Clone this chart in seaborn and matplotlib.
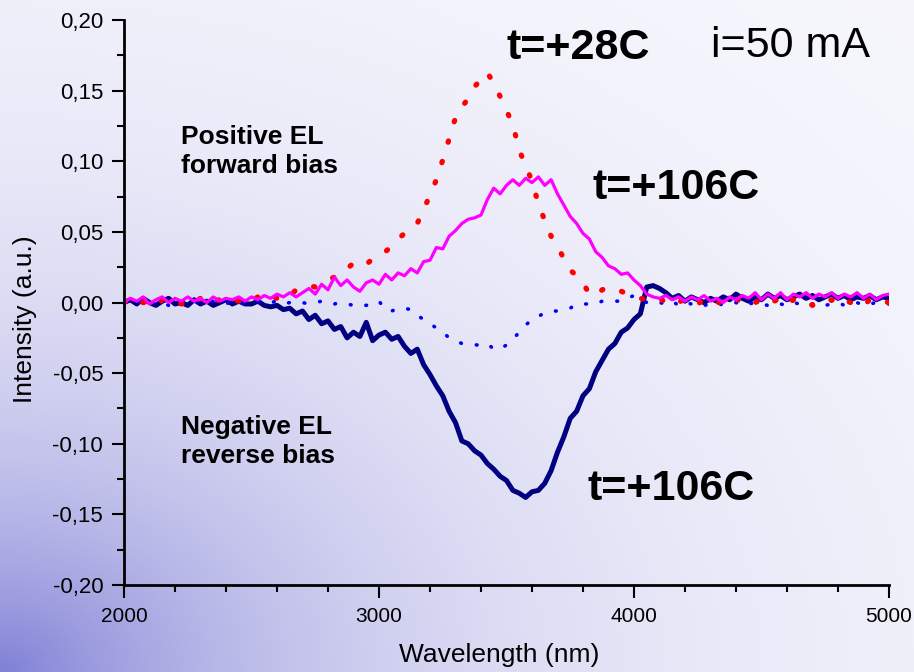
import numpy as np
import pandas as pd
import matplotlib
matplotlib.use("Agg")
import matplotlib.pyplot as plt
from matplotlib.ticker import MultipleLocator, FuncFormatter
import seaborn as sns

# wavelength grid, 25 nm steps, 2000..5000 nm
wavelength = np.arange(2000, 5001, 25)

# t=+106C, reverse bias (negative EL), thick navy line
rev_106 = [
    0.000, 0.002, -0.001, 0.003, 0.000, -0.002, 0.001, 0.003, -0.001, 0.000,
    -0.002, 0.002, -0.001, 0.001, -0.002, 0.000, 0.002, -0.001, 0.001, -0.001,
    -0.001, 0.001, -0.002, -0.003, -0.002, -0.005, -0.004, -0.008, -0.006, -0.012,
    -0.009, -0.015, -0.013, -0.019, -0.017, -0.025, -0.021, -0.024, -0.014, -0.027,
    -0.023, -0.021, -0.026, -0.024, -0.031, -0.036, -0.033, -0.044, -0.051, -0.059,
    -0.066, -0.077, -0.085, -0.098, -0.100, -0.105, -0.108, -0.114, -0.118, -0.123,
    -0.126, -0.133, -0.135, -0.138, -0.134, -0.133, -0.128, -0.119, -0.106, -0.095,
    -0.082, -0.077, -0.066, -0.061, -0.049, -0.041, -0.033, -0.029, -0.021, -0.018,
    -0.012, -0.008, 0.011, 0.012, 0.010, 0.007, 0.003, 0.005, 0.001, 0.004,
    0.002, 0.000, 0.003, 0.001, 0.004, 0.002, 0.006, 0.003, 0.001, 0.004,
    0.002, 0.006, 0.003, 0.005, 0.002, 0.004, 0.006, 0.003, 0.005, 0.002,
    0.004, 0.006, 0.003, 0.005, 0.002, 0.004, 0.003, 0.005, 0.002, 0.004,
    0.003,
]

# t=+28C, reverse bias, blue dotted
rev_28 = [
    0.001, -0.001, 0.000, 0.002, -0.001, 0.001, 0.000, -0.002, 0.001, 0.000,
    -0.001, 0.001, 0.000, -0.001, 0.001, 0.000, -0.001, 0.001, 0.000, -0.001,
    0.000, 0.001, -0.001, 0.000, 0.001, -0.001, 0.000, -0.001, 0.000, -0.001,
    0.000, 0.001, 0.001, -0.001, 0.000, -0.001, -0.002, -0.001, -0.002, 0.000,
    0.001, -0.005, -0.006, -0.004, -0.004, -0.005, -0.009, -0.012, -0.015, -0.018,
    -0.021, -0.025, -0.027, -0.029, -0.029, -0.030, -0.030, -0.029, -0.033, -0.033,
    -0.030, -0.026, -0.021, -0.016, -0.012, -0.010, -0.007, -0.006, -0.006, -0.005,
    -0.004, -0.001, -0.001, -0.001, -0.001, 0.001, 0.001, 0.001, 0.001, 0.003,
    0.005, 0.003, 0.000, -0.001, 0.000, -0.001, 0.001, -0.002, 0.000, -0.001,
    0.000, -0.002, -0.001, 0.000, -0.002, -0.001, 0.000, -0.002, -0.001, 0.000,
    -0.001, -0.002, 0.000, -0.001, -0.002, 0.000, -0.001, -0.002, -0.001, 0.000,
    -0.002, -0.001, 0.000, -0.002, -0.001, 0.000, -0.002, -0.001, 0.000, -0.001,
    -0.001,
]

# t=+28C, forward bias (positive EL), red dotted
fwd_28 = [
    0.001, -0.001, 0.002, 0.000, 0.001, -0.002, 0.002, 0.000, 0.001, -0.001,
    0.002, 0.000, 0.003, -0.001, 0.001, 0.002, 0.000, 0.002, 0.001, 0.003,
    0.001, 0.004, 0.002, 0.005, 0.003, 0.006, 0.005, 0.009, 0.010, 0.012,
    0.011, 0.014, 0.016, 0.018, 0.020, 0.024, 0.028, 0.026, 0.027, 0.031,
    0.033, 0.036, 0.040, 0.045, 0.049, 0.052, 0.056, 0.066, 0.076, 0.087,
    0.101, 0.116, 0.131, 0.138, 0.145, 0.153, 0.158, 0.163, 0.155, 0.146,
    0.136, 0.126, 0.108, 0.097, 0.086, 0.070, 0.058, 0.047, 0.040, 0.031,
    0.023, 0.019, 0.014, 0.006, 0.005, 0.009, 0.011, 0.010, 0.008, 0.006,
    0.004, 0.003, 0.002, 0.001, 0.003, 0.000, 0.002, 0.000, 0.003, 0.001,
    -0.001, 0.002, 0.000, -0.001, 0.002, 0.000, 0.003, -0.001, 0.001, 0.000,
    0.002, -0.001, 0.001, 0.003, -0.001, 0.002, 0.000, 0.001, -0.002, 0.001,
    0.000, 0.002, -0.001, 0.002, 0.000, 0.001, -0.002, 0.002, 0.000, 0.001,
    0.000,
]

# t=+106C, forward bias, magenta solid
fwd_106 = [
    0.000, 0.003, 0.001, 0.004, -0.001, 0.002, 0.004, 0.000, 0.003, 0.001,
    0.004, 0.001, 0.003, 0.000, 0.004, 0.001, 0.003, 0.002, 0.004, 0.001,
    0.004, 0.002, 0.005, 0.003, 0.006, 0.004, 0.007, 0.004, 0.007, 0.010,
    0.006, 0.013, 0.009, 0.018, 0.012, 0.016, 0.011, 0.008, 0.014, 0.016,
    0.013, 0.020, 0.016, 0.021, 0.019, 0.024, 0.021, 0.029, 0.030, 0.039,
    0.038, 0.047, 0.051, 0.056, 0.059, 0.060, 0.062, 0.073, 0.081, 0.077,
    0.083, 0.087, 0.083, 0.088, 0.085, 0.089, 0.083, 0.087, 0.077, 0.069,
    0.061, 0.056, 0.049, 0.045, 0.036, 0.032, 0.026, 0.024, 0.020, 0.021,
    0.016, 0.012, 0.006, 0.004, 0.003, 0.005, 0.002, 0.004, 0.001, 0.004,
    0.002, 0.005, 0.001, 0.003, 0.000, 0.004, 0.002, 0.005, 0.003, 0.007,
    0.002, 0.006, 0.003, 0.007, 0.002, 0.006, 0.004, 0.007, 0.003, 0.006,
    0.004, 0.007, 0.003, 0.006, 0.004, 0.007, 0.003, 0.006, 0.002, 0.005,
    0.006,
]

df = pd.DataFrame({
    "wavelength": wavelength,
    "rev_106": rev_106,
    "rev_28": rev_28,
    "fwd_28": fwd_28,
    "fwd_106": fwd_106,
})

sns.set_style("ticks")
plt.rcParams["font.family"] = ["Liberation Sans", "DejaVu Sans"]
plt.rcParams["text.color"] = "black"
plt.rcParams["axes.labelcolor"] = "black"
plt.rcParams["xtick.color"] = "black"
plt.rcParams["ytick.color"] = "black"

fig, ax = plt.subplots(figsize=(9.14, 6.72), dpi=100)
fig.subplots_adjust(left=0.1357, right=0.9726, top=0.970, bottom=0.1295)

# diagonal background gradient (white top-right -> lavender bottom-left)
bg = fig.add_axes([0, 0, 1, 1], zorder=-1)
u, v = np.meshgrid(np.linspace(0, 1, 300), np.linspace(0, 1, 220))
w = np.exp(-2.5 * np.sqrt(u ** 2 + v ** 2))[..., None]
light = np.array([250, 250, 254]) / 255
dark = np.array([128, 128, 214]) / 255
bg.imshow(light + (dark - light) * w, origin="lower", extent=[0, 1, 0, 1], aspect="auto")
bg.axis("off")
ax.set_zorder(1)
ax.patch.set_alpha(0)

sns.lineplot(data=df, x="wavelength", y="rev_106", ax=ax, color="#000080", lw=3.6)
sns.lineplot(data=df, x="wavelength", y="rev_28", ax=ax, color="#0000ff", lw=2.6,
             linestyle=(0, (0.2, 4.2)), dash_capstyle="round")
sns.lineplot(data=df, x="wavelength", y="fwd_28", ax=ax, color="#ff0000", lw=3.8,
             linestyle=(0, (0.25, 3.8)), dash_capstyle="round")
sns.lineplot(data=df, x="wavelength", y="fwd_106", ax=ax, color="#ff00ff", lw=2.3)

ax.set_xlim(2000, 5000)
ax.set_ylim(-0.2, 0.2)
ax.xaxis.set_major_locator(MultipleLocator(1000))
ax.xaxis.set_minor_locator(MultipleLocator(200))
ax.yaxis.set_major_locator(MultipleLocator(0.05))
ax.yaxis.set_minor_locator(MultipleLocator(0.025))


def comma_fmt(val, pos):
    if abs(val) < 1e-9:
        val = 0.0
    return f"{val:.2f}".replace(".", ",")


ax.yaxis.set_major_formatter(FuncFormatter(comma_fmt))
ax.tick_params(which="major", length=9, width=1.5, direction="out", color="black")
ax.tick_params(which="minor", length=5, width=1.5, direction="out", color="black")
ax.tick_params(axis="y", pad=6, labelsize=16)
ax.tick_params(axis="x", pad=7, labelsize=15)

for side in ["top", "right"]:
    ax.spines[side].set_visible(False)
for side in ["left", "bottom"]:
    ax.spines[side].set_linewidth(2)
    ax.spines[side].set_color("black")

ax.set_xlabel("Wavelength (nm)", fontsize=19, va="center")
ax.set_ylabel("Intensity (a.u.)", fontsize=19, va="center")
ax.xaxis.set_label_coords(0.491, -0.124)
ax.yaxis.set_label_coords(-0.129, 0.47)

ax.text(2224, 0.107, "Positive EL\nforward bias", fontsize=19, fontweight="bold",
        ha="left", va="center", linespacing=1.3)
ax.text(2224, -0.0984, "Negative EL\nreverse bias", fontsize=19, fontweight="bold",
        ha="left", va="center", linespacing=1.3)
ax.text(3780, 0.180, "t=+28C", fontsize=31, fontweight="bold", ha="center", va="center")
ax.text(4612, 0.182, "i=50 mA", fontsize=31, ha="center", va="center")
ax.text(4165, 0.0814, "t=+106C", fontsize=31, fontweight="bold", ha="center", va="center")
ax.text(4145, -0.1317, "t=+106C", fontsize=31, fontweight="bold", ha="center", va="center")

fig.savefig("out.png", dpi=100)
